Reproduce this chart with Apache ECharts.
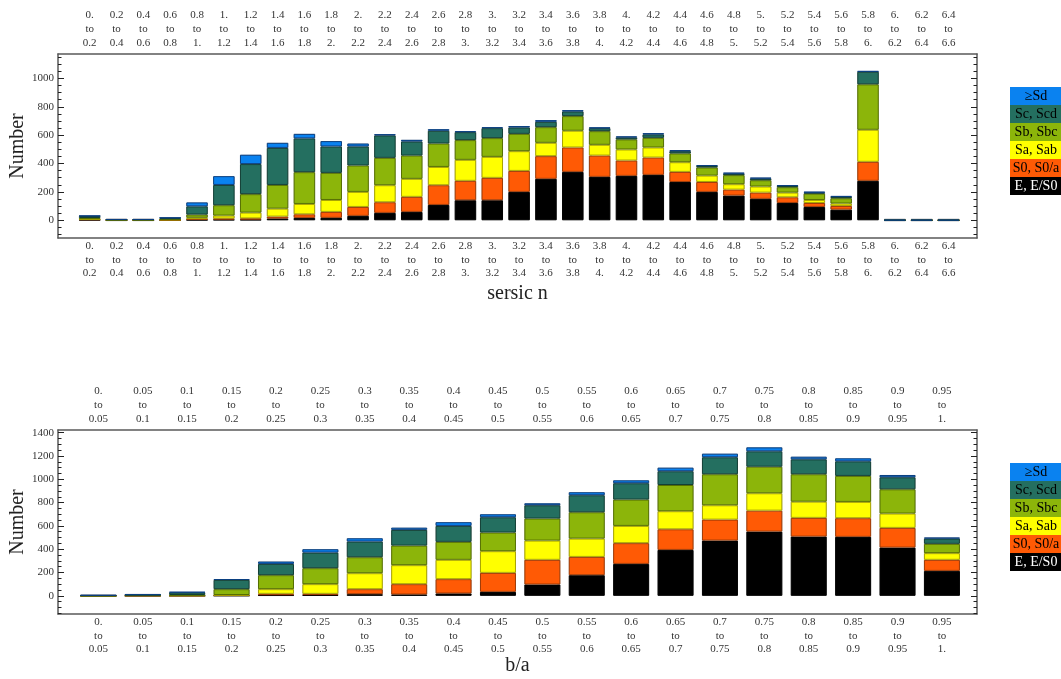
<!DOCTYPE html>
<html>
<head>
<meta charset="utf-8">
<script src="https://cdn.jsdelivr.net/npm/echarts@6/dist/echarts.min.js"></script>
<style>
html, body { margin: 0; padding: 0; background: #ffffff; }
#chart { width: 1061px; height: 679px; }
</style>
</head>
<body>
<div id="chart"></div>
<script>
// Morphological classes, bottom of each stack first
const classNames = ['E, E/S0', 'S0, S0/a', 'Sa, Sab', 'Sb, Sbc', 'Sc, Scd', '\u2265Sd'];

// Sersic index bins
const sersicEdges = ['0.', '0.2', '0.4', '0.6', '0.8', '1.', '1.2', '1.4', '1.6', '1.8', '2.',
  '2.2', '2.4', '2.6', '2.8', '3.', '3.2', '3.4', '3.6', '3.8', '4.', '4.2', '4.4', '4.6',
  '4.8', '5.', '5.2', '5.4', '5.6', '5.8', '6.', '6.2', '6.4', '6.6'];
const sersicE  = [3, 0, 0, 1, 3, 5, 5, 12, 17, 17, 31, 52, 59, 108, 141, 141, 200, 292, 341, 306, 313, 320, 270, 200, 174, 151, 122, 94, 75, 278, 0, 0, 0];
const sersicS0 = [3, 1, 1, 1, 5, 7, 8, 14, 25, 42, 63, 75, 106, 139, 137, 158, 148, 160, 172, 150, 108, 122, 71, 70, 42, 44, 40, 28, 26, 134, 0, 0, 0];
const sersicSa = [2, 1, 1, 2, 10, 21, 41, 56, 73, 84, 106, 120, 127, 129, 148, 148, 139, 94, 118, 76, 78, 71, 68, 45, 38, 43, 33, 21, 17, 226, 0, 0, 0];
const sersicSb = [8, 1, 1, 4, 22, 73, 130, 167, 224, 191, 186, 193, 164, 165, 139, 132, 122, 110, 103, 96, 71, 68, 62, 57, 64, 44, 38, 45, 37, 320, 0, 0, 0];
const sersicSc = [14, 2, 2, 9, 58, 143, 212, 261, 238, 186, 134, 158, 99, 90, 56, 70, 45, 38, 33, 21, 14, 24, 16, 11, 11, 12, 9, 7, 10, 89, 0, 0, 0];
const sersicSd = [2, 1, 1, 1, 28, 62, 66, 36, 32, 38, 21, 9, 12, 11, 7, 7, 10, 12, 9, 5, 7, 9, 7, 6, 6, 6, 6, 6, 6, 5, 3, 3, 3];
const sersicTicks = [0, 200, 400, 600, 800, 1000];

// Axial ratio bins
const baEdges = ['0.', '0.05', '0.1', '0.15', '0.2', '0.25', '0.3', '0.35', '0.4', '0.45', '0.5',
  '0.55', '0.6', '0.65', '0.7', '0.75', '0.8', '0.85', '0.9', '0.95', '1.'];
const baE  = [0, 0, 0, 1, 5, 6, 14, 11, 20, 34, 97, 177, 274, 394, 474, 551, 508, 506, 414, 214];
const baS0 = [0, 1, 1, 3, 12, 11, 43, 89, 123, 163, 212, 157, 178, 177, 180, 180, 161, 160, 169, 95];
const baSa = [0, 1, 1, 3, 40, 83, 137, 163, 166, 186, 165, 157, 148, 155, 123, 149, 139, 140, 123, 57];
const baSb = [1, 3, 5, 50, 120, 137, 137, 168, 154, 160, 189, 226, 226, 225, 266, 228, 235, 223, 208, 80];
const baSc = [2, 5, 22, 80, 97, 134, 135, 135, 137, 131, 114, 146, 140, 118, 146, 132, 128, 125, 103, 45];
const baSd = [3, 1, 4, 6, 20, 29, 28, 19, 32, 26, 17, 26, 25, 31, 31, 34, 23, 26, 20, 9];
const baTicks = [0, 200, 400, 600, 800, 1000, 1200, 1400];

// Styling
const classColors = ['#000000', '#ff5a05', '#ffff00', '#8cb50a', '#246f60', '#0a82f0'];
const classBorders = ['#000000', '#9e3a05', '#a8a400', '#567000', '#133f36', '#0a3f80'];
const legendInk = ['#ffffff', '#000000', '#000000', '#000000', '#000000', '#000000'];
const SERIF = 'Liberation Serif';
const FRAME = { color: '#5a5a5a', width: 1.5 };

function binLabel(edges, v) {
  const i = Math.round(v);
  return edges[i] + '\nto\n' + edges[i + 1];
}

function minorTicks(major, lo, hi) {
  const step = (major[1] - major[0]) / 4;
  const out = [];
  for (let v = major[0] - step; v > lo; v -= step) out.push(v);
  for (let v = major[0] + step; v < hi; v += step) {
    if (major.indexOf(Math.round(v)) < 0) out.push(v);
  }
  return out;
}

const panels = [
  {
    edges: sersicEdges, layers: [sersicE, sersicS0, sersicSa, sersicSb, sersicSc, sersicSd],
    ticks: sersicTicks, yMin: -125, yMax: 1172, xMin: -1.18, xMax: 33.06,
    grid: { left: 58, top: 54, width: 919, height: 184 }, barWidth: 21.5,
    xName: 'sersic n', xNameGap: 46, legendTop: 87
  },
  {
    edges: baEdges, layers: [baE, baS0, baSa, baSb, baSc, baSd],
    ticks: baTicks, yMin: -156, yMax: 1423, xMin: -0.91, xMax: 19.79,
    grid: { left: 58, top: 430, width: 919, height: 184 }, barWidth: 36,
    xName: 'b/a', xNameGap: 42, legendTop: 463
  }
];

const grids = [], xAxes = [], yAxes = [], series = [], legends = [];

panels.forEach(function (p, g) {
  grids.push(Object.assign({ outerBoundsMode: 'none', containLabel: false }, p.grid));
  const idx = p.layers[0].map(function (_, i) { return i; });
  const labelStyle = {
    customValues: idx,
    formatter: function (v) { return binLabel(p.edges, v); },
    fontFamily: SERIF, fontSize: 11, lineHeight: 13.8, color: '#333333'
  };
  const xBase = {
    gridIndex: g, type: 'value', min: p.xMin, max: p.xMax,
    axisLine: { show: true, onZero: false, lineStyle: FRAME },
    axisTick: { show: false }, splitLine: { show: false }
  };
  const xBottom = xAxes.length;
  xAxes.push(Object.assign({}, xBase, {
    position: 'bottom',
    axisLabel: Object.assign({ margin: 1 }, labelStyle),
    name: p.xName, nameLocation: 'middle', nameGap: p.xNameGap, nameMoveOverlap: false,
    nameTextStyle: { fontFamily: SERIF, fontSize: 20, color: '#222222' }
  }));
  xAxes.push(Object.assign({}, xBase, {
    position: 'top',
    axisLabel: Object.assign({ margin: 4 }, labelStyle)
  }));

  const minor = minorTicks(p.ticks, p.yMin, p.yMax);
  const yBase = {
    gridIndex: g, type: 'value', min: p.yMin, max: p.yMax,
    splitLine: { show: false }
  };
  const yMain = yAxes.length;
  ['left', 'right'].forEach(function (side) {
    yAxes.push(Object.assign({}, yBase, {
      position: side,
      axisLine: { show: true, onZero: false, lineStyle: FRAME },
      axisTick: { show: true, inside: true, length: 6, customValues: p.ticks, lineStyle: { color: '#222', width: 1 } },
      axisLabel: side === 'left'
        ? { show: true, customValues: p.ticks, formatter: function (v) { return String(v); },
            fontFamily: SERIF, fontSize: 11, color: '#333333', margin: 4 }
        : { show: false },
      name: side === 'left' ? 'Number' : '',
      nameLocation: 'middle', nameGap: 30, nameRotate: 90, nameMoveOverlap: false,
      nameTextStyle: { fontFamily: SERIF, fontSize: 20, color: '#222222' }
    }));
    yAxes.push(Object.assign({}, yBase, {
      position: side,
      axisLine: { show: false, onZero: false },
      axisTick: { show: true, inside: true, length: 3.5, customValues: minor, lineStyle: { color: '#222', width: 1 } },
      axisLabel: { show: false }
    }));
  });

  // pale outline behind each full stack
  const totals = idx.map(function (i) {
    return p.layers.reduce(function (s, layer) { return s + layer[i]; }, 0);
  });
  series.push({
    type: 'bar', name: 'outline' + g, xAxisIndex: xBottom, yAxisIndex: yMain,
    barWidth: p.barWidth, barGap: '-100%', silent: true, z: 1,
    encode: { x: 1, y: 0 },
    data: totals.map(function (v, i) { return [v, i]; }),
    itemStyle: { color: 'rgba(0,0,0,0)', borderColor: '#c4c4c4', borderWidth: 3 }
  });

  // counts first in each pair so the stack accumulates along y
  p.layers.forEach(function (layer, k) {
    series.push({
      type: 'bar', name: classNames[k], stack: 'morph' + g,
      xAxisIndex: xBottom, yAxisIndex: yMain, barWidth: p.barWidth, barGap: '-100%', z: 3,
      encode: { x: 1, y: 0 },
      data: layer.map(function (v, i) { return [v, i]; }),
      itemStyle: { color: classColors[k], borderColor: classBorders[k], borderWidth: 1 }
    });
  });

  const rich = {};
  classNames.forEach(function (n, k) {
    rich['c' + k] = {
      width: 52, height: 18, lineHeight: 18, align: 'center',
      backgroundColor: classColors[k], color: legendInk[k],
      fontFamily: SERIF, fontSize: 14
    };
  });
  legends.push({
    orient: 'vertical', left: 1004, top: p.legendTop, padding: 0, itemGap: 0,
    itemWidth: 0, itemHeight: 0, selectedMode: false,
    data: classNames.slice().reverse(),
    formatter: function (name) { return '{c' + classNames.indexOf(name) + '|' + name + '}'; },
    textStyle: { rich: rich, fontFamily: SERIF, fontSize: 14 }
  });
});

const chart = echarts.init(document.getElementById('chart'), null, { renderer: 'canvas' });
chart.setOption({
  animation: false,
  backgroundColor: '#ffffff',
  grid: grids,
  xAxis: xAxes,
  yAxis: yAxes,
  legend: legends,
  series: series
});
</script>
</body>
</html>
